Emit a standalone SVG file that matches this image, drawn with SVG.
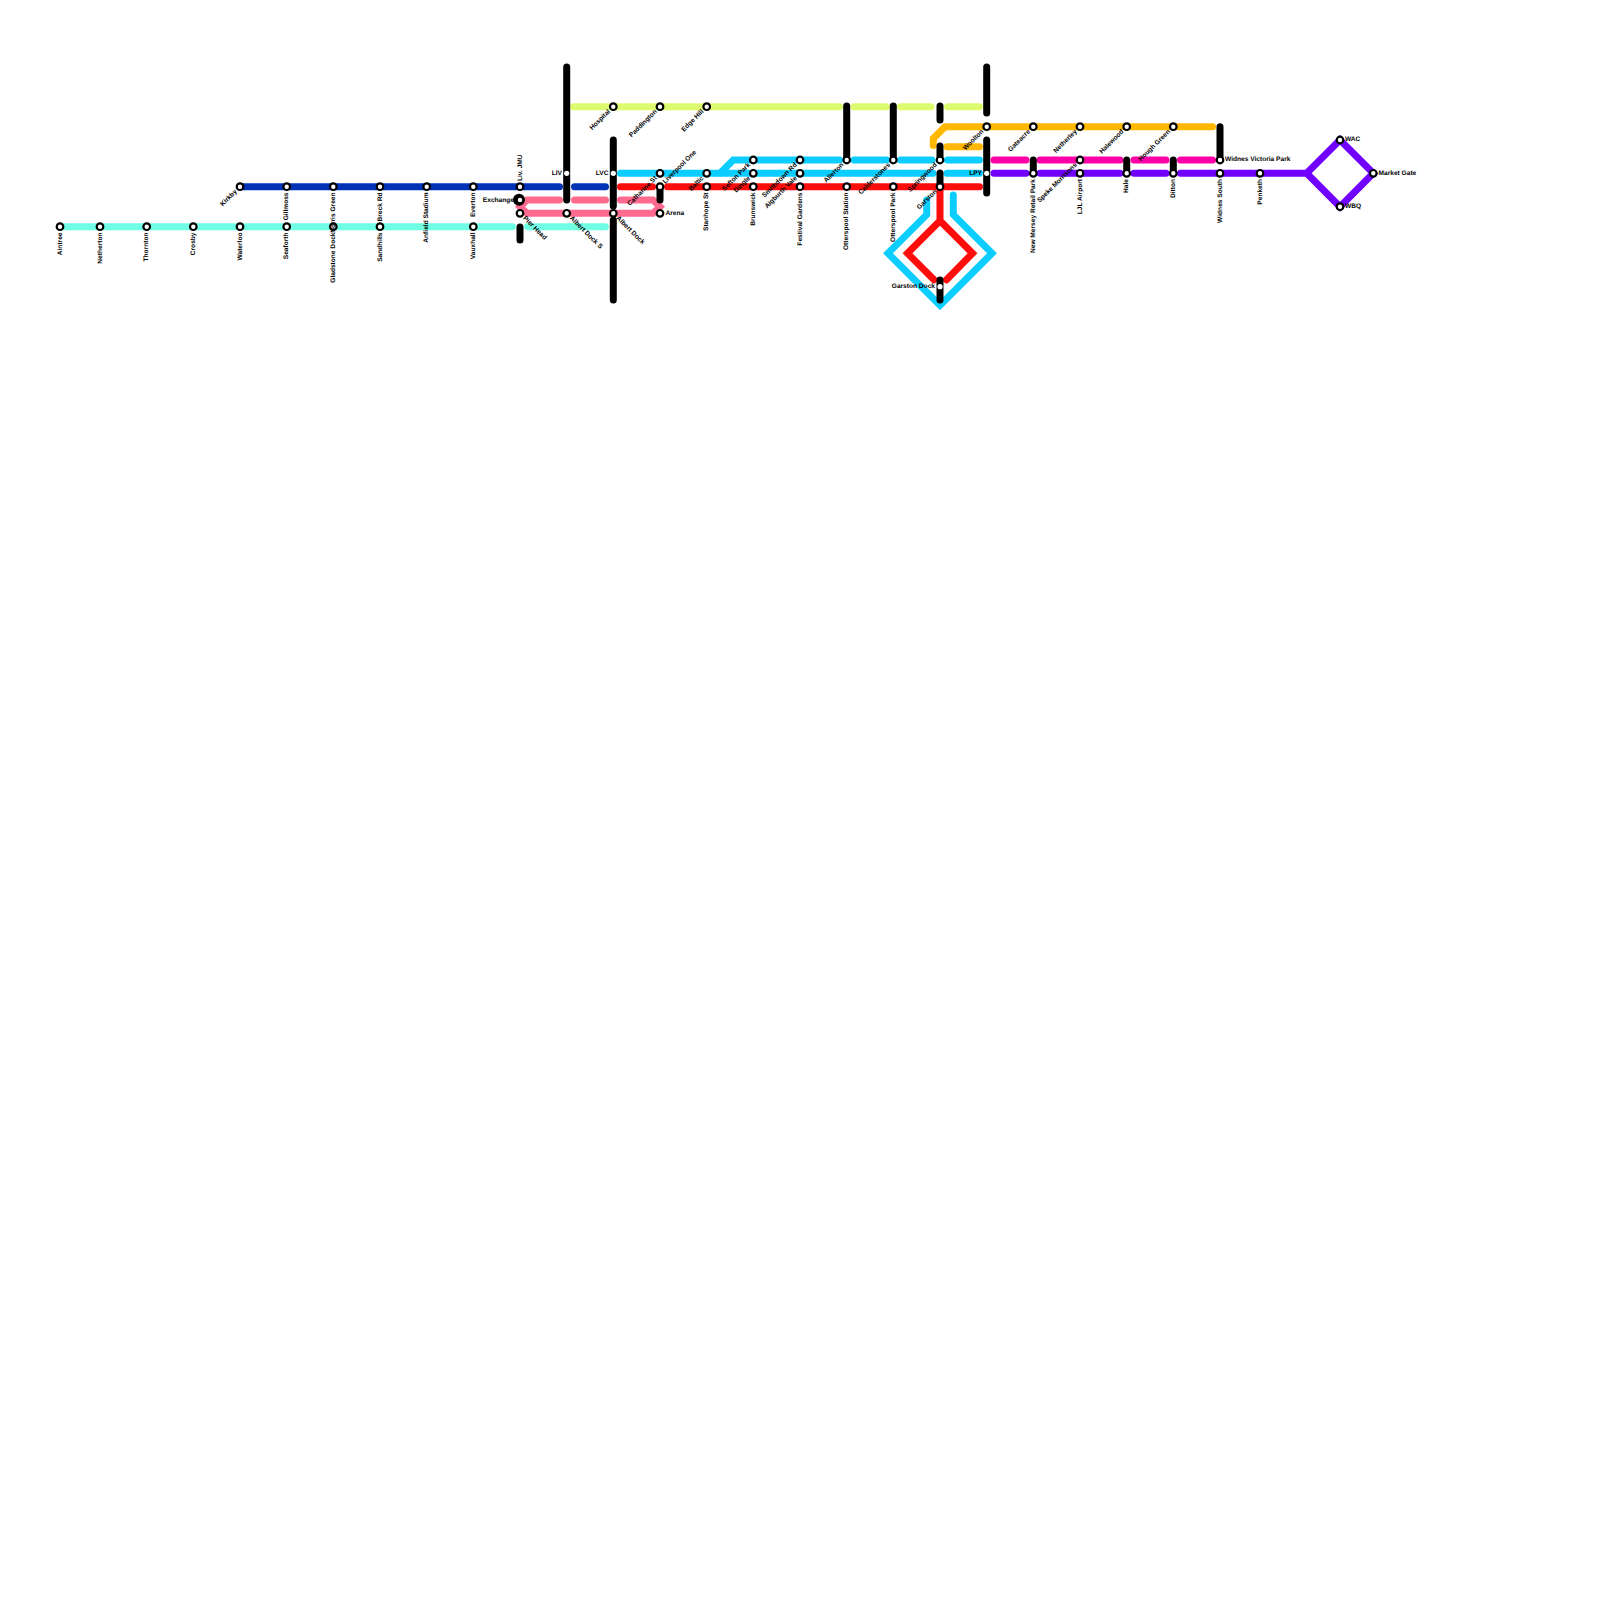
<svg xmlns="http://www.w3.org/2000/svg" width="1600" height="1600" viewBox="0 0 1600 1600">
<style>
.l{fill:none;stroke-width:7;stroke-linecap:round;stroke-linejoin:miter}
.aq{stroke:#6fffe4}.bl{stroke:#0033b5}.pk{stroke:#ff6a8f}.li{stroke:#dcfb6e}.cy{stroke:#0bcdff}.rd{stroke:#ff0c0c}.go{stroke:#ffb700}.mg{stroke:#ff00a8}.pu{stroke:#7000ff}.bk{stroke:#000}
circle.s{fill:#fff;stroke:#000;stroke-width:2.2}
text{font-family:"Liberation Sans",Arial,sans-serif;font-weight:bold;font-size:6.6px;fill:#000;dominant-baseline:middle;text-rendering:geometricPrecision;opacity:.99}
.e{text-anchor:end}
</style>
<rect width="1600" height="1600" fill="#fff"/>
<g id="connectors">
<path class="l aq" d="M60 226.7H512.5M527.5 226.7H605.5"/>
<path class="l bl" d="M240 186.7H559.5M574.5 186.7H605.5"/>
<path class="l pk" d="M559.5 200H527L520 206.7L527 213.3H653L660 206.7L653 200H620.5M574.5 200H605.5"/>
<path class="l li" d="M573.5 106.7H839.5M854 106.7H886.5M900.5 106.7H931M947.5 106.7H979.5"/>
<path class="l cy" d="M620.5 173.3H933M947 173.3H979.5M720 173.3L733.3 160H839.5M854 160H886.5M900.5 160H932M947.5 160H979.5"/>
<path class="l cy" d="M926.7 200V214.6L888 253.3L940 305.3L992 253.3L953.3 214.6V195"/>
<path class="l rd" d="M620.5 186.7H652.5M667.5 186.7H979.5M940 186.7V220.8L907.5 253.3L934 279.8M946.5 279.8L972.5 253.3L940 220.8"/>
<path class="l go" d="M933.3 145.5V138.5L945 126.7H1212.5M947 146.7H979.5"/>
<path class="l mg" d="M994 160H1026M1040 160H1120M1134 160H1166M1180.5 160H1212.5"/>
<path class="l pu" d="M994 173.3H1026M1040 173.3H1120M1134 173.3H1166M1180.5 173.3H1306.7L1340 140L1373.3 173.3L1340 206.7L1306.7 173.3"/>
<g id="interchange-links">
<path class="l bk" d="M566.7 67V200M613.3 140V206M613.3 220V300M520 227V240M660 186.7V200M846.7 106V160M893.3 106V160M940 106V120M940 146V160M940 173V186.7M940 280V300M986.7 67V113M986.7 140V193M1033.3 160V173.3M1126.7 160V173.3M1173.3 160V173.3M1220 126.7V160"/>
<circle cx="519" cy="199.7" r="6" fill="#000"/>
</g>
</g>
<g id="st-aintree"><circle class="s" cx="60" cy="226.7" r="3.3"/><text class="e" transform="translate(60 232.5) rotate(-90)">Aintree</text></g>
<g id="st-netherton"><circle class="s" cx="100" cy="226.7" r="3.3"/><text class="e" transform="translate(100 232.5) rotate(-90)">Netherton</text></g>
<g id="st-thornton"><circle class="s" cx="146.7" cy="226.7" r="3.3"/><text class="e" transform="translate(146.7 232.5) rotate(-90)">Thornton</text></g>
<g id="st-crosby"><circle class="s" cx="193.3" cy="226.7" r="3.3"/><text class="e" transform="translate(193.3 232.5) rotate(-90)">Crosby</text></g>
<g id="st-waterloo"><circle class="s" cx="240" cy="226.7" r="3.3"/><text class="e" transform="translate(240 232.5) rotate(-90)">Waterloo</text></g>
<g id="st-seaforth"><circle class="s" cx="286.7" cy="226.7" r="3.3"/><text class="e" transform="translate(286.7 232.5) rotate(-90)">Seaforth</text></g>
<g id="st-gladstone"><circle class="s" cx="333.3" cy="226.7" r="3.3"/><text class="e" transform="translate(333.3 232.5) rotate(-90)">Gladstone Dock</text></g>
<g id="st-sandhills"><circle class="s" cx="380" cy="226.7" r="3.3"/><text class="e" transform="translate(380 232.5) rotate(-90)">Sandhills</text></g>
<g id="st-vauxhall"><circle class="s" cx="473.3" cy="226.7" r="3.3"/><text class="e" transform="translate(473.3 232.5) rotate(-90)">Vauxhall</text></g>
<g id="st-kirkby"><circle class="s" cx="240" cy="186.7" r="3.3"/><text class="e" transform="translate(236 190.7) rotate(-45)">Kirkby</text></g>
<g id="st-gillmoss"><circle class="s" cx="286.7" cy="186.7" r="3.3"/><text class="e" transform="translate(286.7 192.5) rotate(-90)">Gillmoss</text></g>
<g id="st-norris"><circle class="s" cx="333.3" cy="186.7" r="3.3"/><text class="e" transform="translate(333.3 192.5) rotate(-90)">Norris Green</text></g>
<g id="st-breck"><circle class="s" cx="380" cy="186.7" r="3.3"/><text class="e" transform="translate(380 192.5) rotate(-90)">Breck Rd</text></g>
<g id="st-anfield"><circle class="s" cx="426.7" cy="186.7" r="3.3"/><text class="e" transform="translate(426.7 192.5) rotate(-90)">Anfield Stadium</text></g>
<g id="st-everton"><circle class="s" cx="473.3" cy="186.7" r="3.3"/><text class="e" transform="translate(473.3 192.5) rotate(-90)">Everton</text></g>
<g id="st-livjmu"><circle class="s" cx="520" cy="186.7" r="3.3"/><text transform="translate(520 181) rotate(-90)">Liv. JMU</text></g>
<g id="st-exchange"><circle class="s" cx="520" cy="200" r="3.3"/><text class="e" x="514" y="200">Exchange</text></g>
<g id="st-pierhead"><circle class="s" cx="520" cy="213.3" r="3.3"/><text transform="translate(524 217.3) rotate(45)">Pier Head</text></g>
<g id="st-liv"><circle class="s" cx="566.7" cy="173.3" r="2.6" style="stroke:none"/><text class="e" x="562" y="173.3">LIV</text></g>
<g id="st-lvc"><circle class="s" cx="613.3" cy="173.3" r="2.6" style="stroke:none"/><text class="e" x="608.5" y="173.3">LVC</text></g>
<g id="st-albertdocks"><circle class="s" cx="566.7" cy="213.3" r="3.3"/><text transform="translate(570.7 217.3) rotate(45)">Albert Dock S</text></g>
<g id="st-albertdock"><circle class="s" cx="613.3" cy="213.3" r="3.3"/><text transform="translate(617.3 217.3) rotate(45)">Albert Dock</text></g>
<g id="st-hospital"><circle class="s" cx="613.3" cy="106.7" r="3.3"/><text class="e" transform="translate(609.3 110.7) rotate(-45)">Hospital</text></g>
<g id="st-paddington"><circle class="s" cx="660" cy="106.7" r="3.3"/><text class="e" transform="translate(656 110.7) rotate(-45)">Paddington</text></g>
<g id="st-edgehill"><circle class="s" cx="706.7" cy="106.7" r="3.3"/><text class="e" transform="translate(702.7 110.7) rotate(-45)">Edge Hill</text></g>
<g id="st-catharine"><circle class="s" cx="660" cy="173.3" r="3.3"/><text class="e" transform="translate(656 177.3) rotate(-45)">Catharine St</text></g>
<g id="st-liverpoolone"><circle class="s" cx="660" cy="186.7" r="3.3"/><text transform="translate(664 182.7) rotate(-45)">Liverpool One</text></g>
<g id="st-arena"><circle class="s" cx="660" cy="213.3" r="3.3"/><text x="665.5" y="213">Arena</text></g>
<g id="st-baltic"><circle class="s" cx="706.7" cy="173.3" r="3.3"/><text class="e" transform="translate(702.7 177.3) rotate(-45)">Baltic</text></g>
<g id="st-stanhope"><circle class="s" cx="706.7" cy="186.7" r="3.3"/><text class="e" transform="translate(706.7 192.5) rotate(-90)">Stanhope St</text></g>
<g id="st-sefton"><circle class="s" cx="753.3" cy="160" r="3.3"/><text class="e" transform="translate(749.3 164) rotate(-45)">Sefton Park</text></g>
<g id="st-dingle"><circle class="s" cx="753.3" cy="173.3" r="3.3"/><text class="e" transform="translate(749.3 177.3) rotate(-45)">Dingle</text></g>
<g id="st-brunswick"><circle class="s" cx="753.3" cy="186.7" r="3.3"/><text class="e" transform="translate(753.3 192.5) rotate(-90)">Brunswick</text></g>
<g id="st-smithdown"><circle class="s" cx="800" cy="160" r="3.3"/><text class="e" transform="translate(796 164) rotate(-45)">Smithdown Rd</text></g>
<g id="st-aigburth"><circle class="s" cx="800" cy="173.3" r="3.3"/><text class="e" transform="translate(796 177.3) rotate(-45)">Aigburth Vale</text></g>
<g id="st-festival"><circle class="s" cx="800" cy="186.7" r="3.3"/><text class="e" transform="translate(800 192.5) rotate(-90)">Festival Gardens</text></g>
<g id="st-allerton"><circle class="s" cx="846.7" cy="160" r="3.3"/><text class="e" transform="translate(842.7 164) rotate(-45)">Allerton</text></g>
<g id="st-otterspoolstn"><circle class="s" cx="846.7" cy="186.7" r="3.3"/><text class="e" transform="translate(846.7 192.5) rotate(-90)">Otterspool Station</text></g>
<g id="st-calderstones"><circle class="s" cx="893.3" cy="160" r="3.3"/><text class="e" transform="translate(889.3 164) rotate(-45)">Calderstones</text></g>
<g id="st-otterspoolpark"><circle class="s" cx="893.3" cy="186.7" r="3.3"/><text class="e" transform="translate(893.3 192.5) rotate(-90)">Otterspool Park</text></g>
<g id="st-springwood"><circle class="s" cx="940" cy="160" r="3.3"/><text class="e" transform="translate(936 164) rotate(-45)">Springwood</text></g>
<g id="st-garston"><circle class="s" cx="940" cy="186.7" r="3.3"/><text class="e" transform="translate(936 190.7) rotate(-45)">Garston</text></g>
<g id="st-garstondock"><circle class="s" cx="940" cy="286.7" r="2.6" style="stroke:none"/><text class="e" x="935" y="286">Garston Dock</text></g>
<g id="st-woolton"><circle class="s" cx="986.7" cy="126.7" r="3.3"/><text class="e" transform="translate(982.7 130.7) rotate(-45)">Woolton</text></g>
<g id="st-lpy"><circle class="s" cx="986.7" cy="173.3" r="2.6" style="stroke:none"/><text class="e" x="982" y="173.3">LPY</text></g>
<g id="st-gateacre"><circle class="s" cx="1033.3" cy="126.7" r="3.3"/><text class="e" transform="translate(1029.3 130.7) rotate(-45)">Gateacre</text></g>
<g id="st-newmersey"><circle class="s" cx="1033.3" cy="173.3" r="3.3"/><text class="e" transform="translate(1033.3 179) rotate(-90)">New Mersey Retail Park</text></g>
<g id="st-netherley"><circle class="s" cx="1080" cy="126.7" r="3.3"/><text class="e" transform="translate(1076 130.7) rotate(-45)">Netherley</text></g>
<g id="st-speke"><circle class="s" cx="1080" cy="160" r="3.3"/><text class="e" transform="translate(1076 164) rotate(-45)">Speke Morrisons</text></g>
<g id="st-ljl"><circle class="s" cx="1080" cy="173.3" r="3.3"/><text class="e" transform="translate(1080 179) rotate(-90)">LJL Airport</text></g>
<g id="st-halewood"><circle class="s" cx="1126.7" cy="126.7" r="3.3"/><text class="e" transform="translate(1122.7 130.7) rotate(-45)">Halewood</text></g>
<g id="st-hale"><circle class="s" cx="1126.7" cy="173.3" r="3.3"/><text class="e" transform="translate(1126.7 179) rotate(-90)">Hale</text></g>
<g id="st-hough"><circle class="s" cx="1173.3" cy="126.7" r="3.3"/><text class="e" transform="translate(1169.3 130.7) rotate(-45)">Hough Green</text></g>
<g id="st-ditton"><circle class="s" cx="1173.3" cy="173.3" r="3.3"/><text class="e" transform="translate(1173.3 179) rotate(-90)">Ditton</text></g>
<g id="st-widnesvp"><circle class="s" cx="1220" cy="160" r="3.3"/><text x="1225" y="159.5">Widnes Victoria Park</text></g>
<g id="st-widness"><circle class="s" cx="1220" cy="173.3" r="3.3"/><text class="e" transform="translate(1220 179) rotate(-90)">Widnes South</text></g>
<g id="st-penketh"><circle class="s" cx="1260" cy="173.3" r="3.3"/><text class="e" transform="translate(1260 179) rotate(-90)">Penketh</text></g>
<g id="st-wac"><circle class="s" cx="1340" cy="140" r="3.3"/><text x="1345" y="139.5">WAC</text></g>
<g id="st-market"><circle class="s" cx="1373.3" cy="173.3" r="3.3"/><text x="1378.5" y="173">Market Gate</text></g>
<g id="st-wbq"><circle class="s" cx="1340" cy="206.7" r="3.3"/><text x="1345" y="206.5">WBQ</text></g>
</svg>
